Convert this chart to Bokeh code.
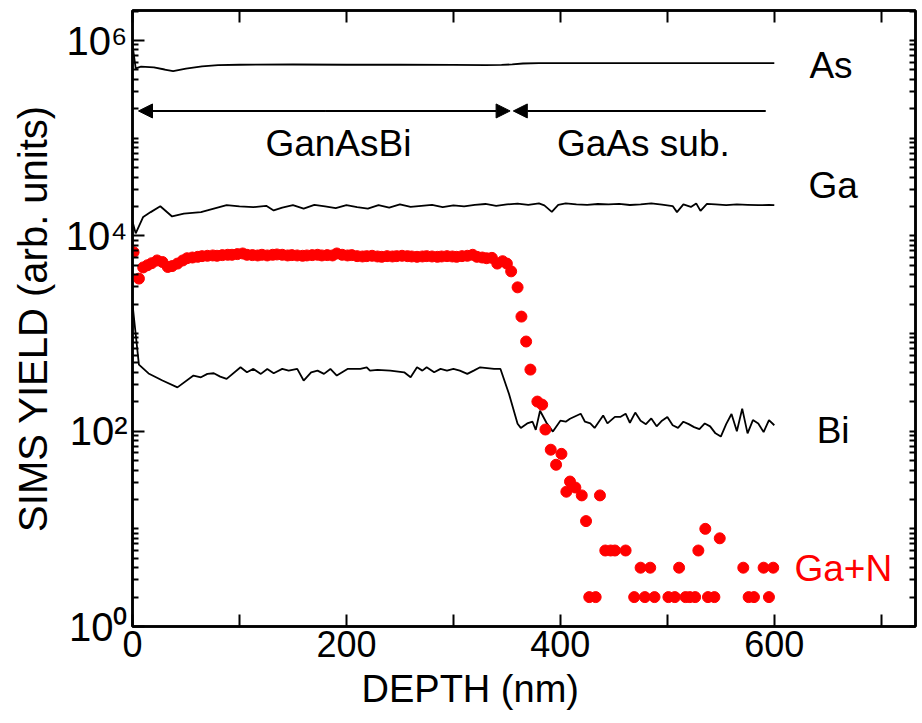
from bokeh.plotting import figure
from bokeh.models import (Range1d, FixedTicker, LinearAxis, LogAxis, Label,
                          Arrow, NormalHead, Title)
from bokeh.embed import file_html
from bokeh.resources import INLINE

# ---------------- data ----------------
as_depth = [0, 3, 8, 20, 30, 38, 50, 65, 80, 100, 150, 200, 250, 300, 330, 345,
            355, 365, 380, 450, 500, 600]
as_yield = [900000, 520000, 540000, 530000, 505000, 485000, 515000, 545000,
            560000, 565000, 568000, 565000, 566000, 563000, 560000, 562000,
            570000, 582000, 588000, 586000, 588000, 587000]

ga_depth = [0, 3, 10, 17, 26, 37, 48, 64, 76, 88, 100, 113, 125, 132, 140, 150,
            160, 170, 180, 190, 200, 210, 220, 230, 240, 250, 260, 270, 280, 290,
            300, 310, 320, 330, 340, 350, 360, 370, 380, 385, 392, 398, 405, 415,
            425, 435, 445, 455, 465, 475, 485, 495, 505, 509, 515, 522, 527, 531,
            537, 545, 555, 565, 575, 585, 595, 600]
ga_yield = [14000, 10600, 15600, 17500, 20100, 15800, 16900, 17500, 19000, 20600,
            20000, 19700, 20300, 18200, 19500, 20600, 19000, 20800, 20000, 19200,
            20600, 19700, 19000, 20600, 19500, 21000, 19800, 20300, 20800, 19700,
            20500, 20000, 20800, 21200, 20300, 21000, 21400, 20800, 21500, 20500,
            17600, 20800, 21500, 21000, 20800, 21200, 21000, 21300, 20700, 21000,
            21500, 20900, 20200, 17500, 21000, 19800, 21500, 18000, 21300, 21000,
            20600, 21000, 20800, 20600, 20700, 20600]

bi_depth = [0, 6, 15, 28, 42, 57, 64, 70, 76, 82, 88, 101, 107, 113, 120, 126,
            132, 140, 146, 154, 160, 167, 173, 179, 185, 191, 201, 213, 219, 222,
            229, 241, 254, 260, 266, 271, 275, 282, 288, 294, 300, 306, 313, 319,
            325, 338, 344, 352, 360, 363, 369, 374, 377, 381, 387, 393, 400, 405,
            409, 419, 423, 428, 432, 440, 444, 451, 456, 461, 465, 470, 475, 480,
            485, 490, 495, 500, 505, 510, 515, 520, 525, 530, 535, 540, 545, 550,
            555, 560, 565, 570, 575, 580, 585, 590, 595, 600]
bi_yield = [2000, 480, 390, 330, 281, 371, 356, 386, 392, 362, 343, 451, 401, 434,
            386, 434, 392, 434, 417, 434, 330, 401, 417, 386, 434, 371, 434, 434,
            451, 417, 424, 417, 401, 356, 451, 417, 451, 401, 434, 417, 434, 417,
            386, 417, 451, 434, 434, 240, 119, 108, 120, 125, 103, 162, 122, 99,
            128, 125, 134, 151, 125, 120, 108, 145, 120, 140, 140, 151, 122, 155,
            128, 118, 135, 112, 128, 140, 115, 108, 125, 118, 110, 105, 120, 112,
            95, 88, 118, 150, 100, 170, 95, 130, 120, 98, 130, 115]

gan_depth = [1, 6, 10, 14, 18, 23, 28, 33, 37, 42, 47, 51, 56, 61, 65, 70, 75, 79,
             84, 89, 93, 98, 103, 107, 112, 117, 121, 126, 131, 135, 140, 145, 149,
             154, 159, 163, 168, 173, 177, 182, 187, 191, 196, 201, 205, 210, 215,
             219, 224, 229, 233, 238, 243, 247, 252, 257, 261, 266, 271, 275, 280,
             285, 289, 294, 299, 303, 308, 313, 318, 322, 327, 331, 336, 341, 346,
             350, 354, 360, 363.6, 368, 372, 378.5, 383, 386, 391, 396, 401, 405.6,
             409, 414, 420, 424, 427, 433, 437, 442, 447, 451, 461, 469, 475, 479,
             484, 488, 501, 507, 511, 517, 521, 526, 529, 535.5, 538, 544, 549, 571,
             576, 581, 590, 595, 599]
gan_yield = [6800, 3650, 4750, 5000, 5250, 5600, 5400, 4800, 4900, 5200, 5600, 5900,
             6000, 6100, 6200, 6250, 6300, 6250, 6350, 6400, 6400, 6500, 6600, 6400,
             6350, 6300, 6400, 6300, 6400, 6450, 6400, 6300, 6350, 6300, 6250, 6300,
             6350, 6400, 6300, 6350, 6300, 6600, 6400, 6300, 6350, 6200, 6150, 6200,
             6250, 6150, 6100, 6200, 6150, 6200, 6250, 6200, 6150, 6100, 6150, 6200,
             6150, 6100, 6150, 6200, 6150, 6100, 6200, 6250, 6400, 6100, 6000, 5900,
             5950, 5200, 5500, 5200, 4330, 2970, 1490, 828, 427, 201, 187, 104, 64.6,
             45.3, 58.6, 24, 30.5, 26.5, 22, 12, 2, 2, 22, 6, 6, 6, 6, 2, 4, 2, 4, 2,
             2, 2, 4, 2, 2, 2, 6, 10, 2, 2, 8, 4, 2, 2, 4, 2, 4]

x_major = [0, 200, 400, 600]
x_minor = [100, 300, 500, 700]
x_all = [0, 100, 200, 300, 400, 500, 600, 700]
y_ticks = [1, 100, 10000, 1000000]
y_tick_labels = {1: "10\u2070", 100: "10\u00b2", 10000: "10\u2074", 1000000: "10\u2076"}
y_minor = [m * 10 ** k for k in range(7) for m in range(1, 10) if not (m == 1 and k % 2 == 0)]

FONT = "Liberation Sans"

p = figure(width=922, height=723, output_backend="svg", toolbar_location=None,
           y_axis_type="log", x_range=Range1d(0, 732), y_range=Range1d(1, 2.03e6),
           min_border_left=132, min_border_right=7, min_border_top=10,
           min_border_bottom=97)
p.grid.visible = False
p.outline_line_color = "black"
p.outline_line_width = 2.5
p.background_fill_color = "white"
p.border_fill_color = "white"


def style_axis(ax, major_in=12, minor_in=6):
    ax.axis_line_width = 2.5
    ax.major_tick_line_width = 2
    ax.minor_tick_line_width = 2
    ax.major_tick_in = major_in
    ax.major_tick_out = 0
    ax.minor_tick_in = minor_in
    ax.minor_tick_out = 0
    ax.major_label_text_font = FONT
    ax.axis_label_text_font = FONT
    ax.axis_label_text_font_style = "normal"
    ax.axis_label_text_color = "black"
    ax.major_label_text_color = "black"


xa = p.xaxis[0]
xa.ticker = FixedTicker(ticks=x_major, minor_ticks=x_minor)
style_axis(xa, 12, 12)
xa.major_label_text_font_size = "36px"
xa.major_label_standoff = 4

ya = p.yaxis[0]
ya.ticker = FixedTicker(ticks=y_ticks, minor_ticks=y_minor)
ya.major_label_overrides = y_tick_labels
style_axis(ya)
ya.major_label_text_font_size = "40px"
ya.major_label_standoff = 5
ya.axis_label = "SIMS YIELD (arb. units)"
ya.axis_label_text_font_size = "40px"
ya.axis_label_standoff = 8

top = LinearAxis(ticker=FixedTicker(ticks=[], minor_ticks=x_all))
style_axis(top, 12, 12)
top.major_label_standoff = 0
p.add_layout(top, "above")

right = LogAxis(ticker=FixedTicker(ticks=[], minor_ticks=y_minor + y_ticks))
style_axis(right, 12, 6)
right.major_label_standoff = 0
p.add_layout(right, "right")

# x-axis title, placed under the 0-600 nm span as in the reference
p.add_layout(Title(text="DEPTH (nm)", align="left", offset=229, text_font=FONT,
                   text_font_size="38px", text_font_style="normal",
                   text_color="black", standoff=12), "below")

p.line(as_depth, as_yield, line_color="black", line_width=1.8)
p.line(ga_depth, ga_yield, line_color="black", line_width=1.8)
p.line(bi_depth, bi_yield, line_color="black", line_width=1.8)
p.scatter(gan_depth, gan_yield, size=11, fill_color="#ff0000", line_color="#ff0000")

# arrows for the layers
arrow_y = 190000
head = dict(size=14, fill_color="black", line_color="black")
p.add_layout(Arrow(x_start=180, x_end=5.6, y_start=arrow_y, y_end=arrow_y,
                   line_width=2, end=NormalHead(**head)))
p.add_layout(Arrow(x_start=180, x_end=353, y_start=arrow_y, y_end=arrow_y,
                   line_width=2, end=NormalHead(**head)))
p.add_layout(Arrow(x_start=592, x_end=356, y_start=arrow_y, y_end=arrow_y,
                   line_width=2, end=NormalHead(**head)))


def label(x, y, text, color="black", size="37px"):
    p.add_layout(Label(x=x, y=y, text=text, text_font=FONT, text_font_size=size,
                       text_color=color, text_align="center", text_baseline="middle"))


label(192.5, 89000, "GanAsBi")
label(477.6, 89000, "GaAs sub.")
label(653, 550000, "As")
label(655, 33000, "Ga")
label(655, 101, "Bi")
label(664.5, 3.9, "Ga+N", color="#ff0000")

open("out.html", "w").write(file_html(p, INLINE))
